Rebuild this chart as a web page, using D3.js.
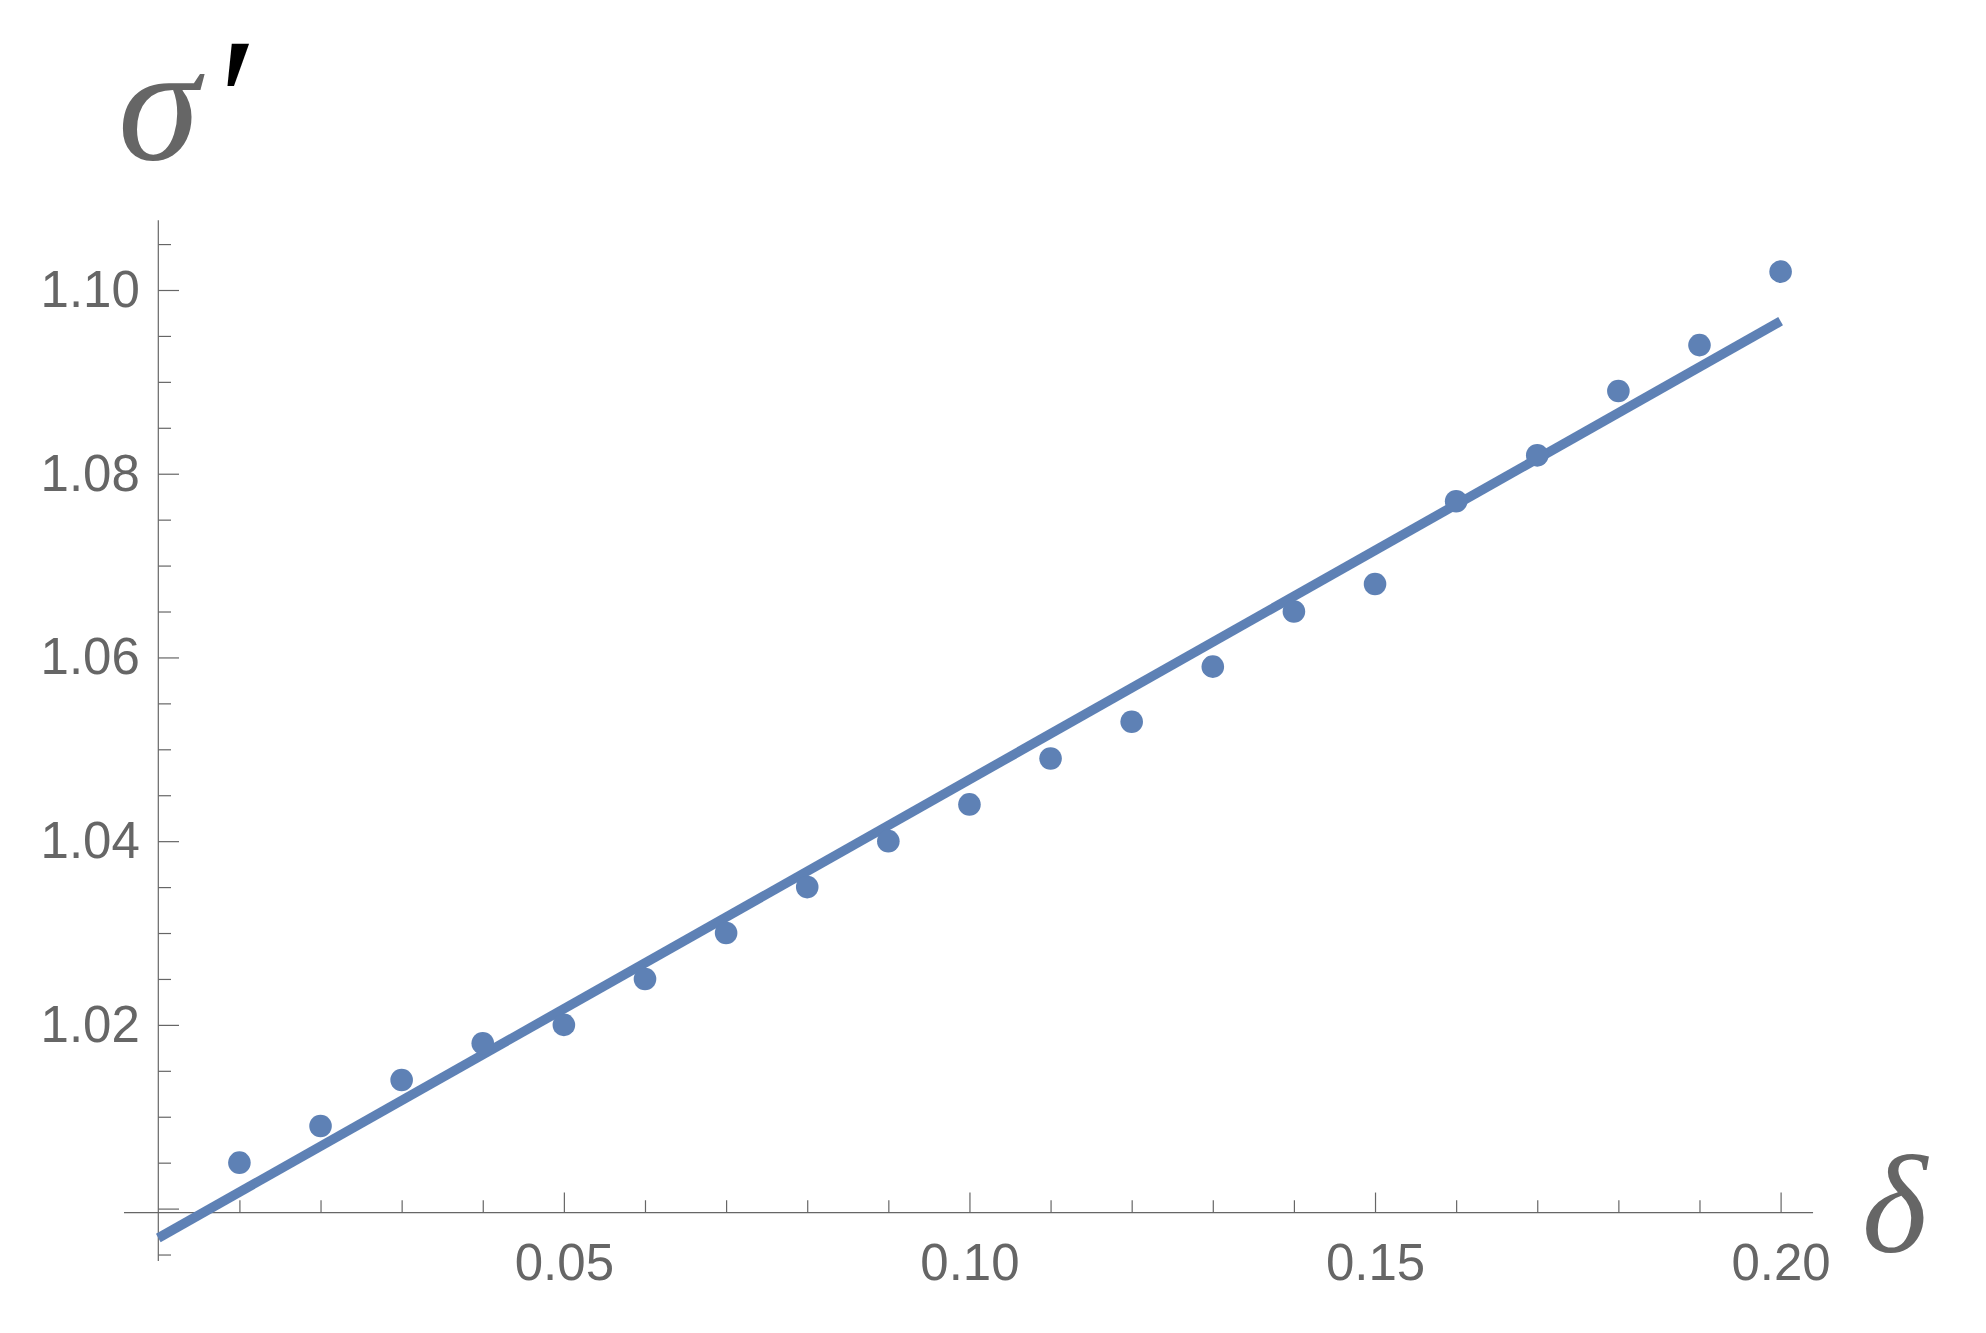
<!DOCTYPE html>
<html>
<head>
<meta charset="utf-8">
<script src="https://cdn.jsdelivr.net/npm/d3@7"></script>
<style>
  html, body { margin: 0; padding: 0; background: #fff; }
  svg { display: block; }
</style>
</head>
<body>
<svg id="chart" width="1986" height="1333"></svg>
<script>
// ---- data ----
const deltaValues = [0.01, 0.02, 0.03, 0.04, 0.05, 0.06, 0.07, 0.08, 0.09, 0.10,
                     0.11, 0.12, 0.13, 0.14, 0.15, 0.16, 0.17, 0.18, 0.19, 0.20];
const sigmaValues = [1.005, 1.009, 1.014, 1.018, 1.020, 1.025, 1.030, 1.035, 1.040, 1.044,
                     1.049, 1.053, 1.059, 1.065, 1.068, 1.077, 1.082, 1.089, 1.094, 1.102];
const fitX = [0.0, 0.2];
const fitY = [0.9968, 1.0966];
const xMajorTicks = [0.05, 0.10, 0.15, 0.20];
const xTickLabels = ["0.05", "0.10", "0.15", "0.20"];
const xMinorTicks = [0.01, 0.02, 0.03, 0.04, 0.06, 0.07, 0.08, 0.09, 0.11, 0.12, 0.13, 0.14, 0.16, 0.17, 0.18, 0.19];
const yMajorTicks = [1.00, 1.02, 1.04, 1.06, 1.08, 1.10];
const yTickLabels = ["", "1.02", "1.04", "1.06", "1.08", "1.10"];
const yMinorTicks = [0.995, 1.005, 1.01, 1.015, 1.025, 1.03, 1.035, 1.045, 1.05, 1.055,
                     1.065, 1.07, 1.075, 1.085, 1.09, 1.095, 1.105];
const xLabel = "δ";
const yLabel = "σ";
const yLabelPrime = "′";

// ---- layout ----
const svg = d3.select("#chart");
const COLOR = "#5e81b5";
const AXIS = "#666666";
const x = d3.scaleLinear().domain([0, 0.2]).range([158.3, 1780.6]);
const y = d3.scaleLinear().domain([1.0, 1.1]).range([1208.6, 290]);
const xAxisAt = 0.99957;     // y-value where horizontal axis crosses
const xExtent = [-0.00423, 0.2040];
const yExtent = [0.9943, 1.1076];

// axis lines
svg.append("line")
  .attr("x1", x(xExtent[0])).attr("x2", x(xExtent[1]))
  .attr("y1", y(xAxisAt)).attr("y2", y(xAxisAt))
  .attr("stroke", AXIS).attr("stroke-width", 1.2);
svg.append("line")
  .attr("x1", x(0)).attr("x2", x(0))
  .attr("y1", y(yExtent[0])).attr("y2", y(yExtent[1]))
  .attr("stroke", AXIS).attr("stroke-width", 1.2);

function styleAxis(g) {
  g.select(".domain").remove();
  g.selectAll("line").attr("stroke", AXIS).attr("stroke-width", 1.2);
  g.selectAll("text").attr("fill", AXIS)
    .attr("font-family", "'Liberation Sans', Arial, sans-serif")
    .attr("font-size", 51);
}

// x axis major
svg.append("g").attr("transform", `translate(0,${y(xAxisAt)})`)
  .call(d3.axisBottom(x).tickValues(xMajorTicks)
        .tickFormat((d, i) => xTickLabels[i]).tickSize(-20).tickPadding(31.5))
  .call(styleAxis);
// x axis minor
svg.append("g").attr("transform", `translate(0,${y(xAxisAt)})`)
  .call(d3.axisBottom(x).tickValues(xMinorTicks).tickFormat("").tickSize(-12.3))
  .call(styleAxis);
// y axis major
svg.append("g").attr("transform", `translate(${x(0)},0)`)
  .call(d3.axisLeft(y).tickValues(yMajorTicks)
        .tickFormat((d, i) => yTickLabels[i]).tickSize(-20.7).tickPadding(18.5))
  .call(styleAxis);
// y axis minor
svg.append("g").attr("transform", `translate(${x(0)},0)`)
  .call(d3.axisLeft(y).tickValues(yMinorTicks).tickFormat("").tickSize(-12.7))
  .call(styleAxis);

// fit line
const line = d3.line().x(d => x(d[0])).y(d => y(d[1]));
svg.append("path")
  .datum(fitX.map((v, i) => [v, fitY[i]]))
  .attr("d", line)
  .attr("fill", "none").attr("stroke", COLOR).attr("stroke-width", 9.5)
  .attr("stroke-linecap", "butt");

// points
svg.append("g").selectAll("circle")
  .data(deltaValues.map((v, i) => [v, sigmaValues[i]]))
  .join("circle")
  .attr("cx", d => x(d[0])).attr("cy", d => y(d[1]))
  .attr("r", 11.3).attr("fill", COLOR);

// axis labels
const yl = svg.append("text")
  .attr("x", 118).attr("y", 159)
  .attr("font-family", "'Liberation Serif', 'Times New Roman', serif")
  .attr("font-style", "italic").attr("font-size", 165);
yl.append("tspan").attr("fill", AXIS).text(yLabel);
yl.append("tspan").attr("fill", "#000").attr("font-size", 180)
  .attr("dx", 8).attr("dy", 3).text(yLabelPrime);

svg.append("text")
  .attr("x", 1862).attr("y", 1252)
  .attr("font-family", "'Liberation Serif', 'Times New Roman', serif")
  .attr("font-style", "italic").attr("font-size", 140)
  .attr("fill", AXIS).text(xLabel);
</script>
</body>
</html>
